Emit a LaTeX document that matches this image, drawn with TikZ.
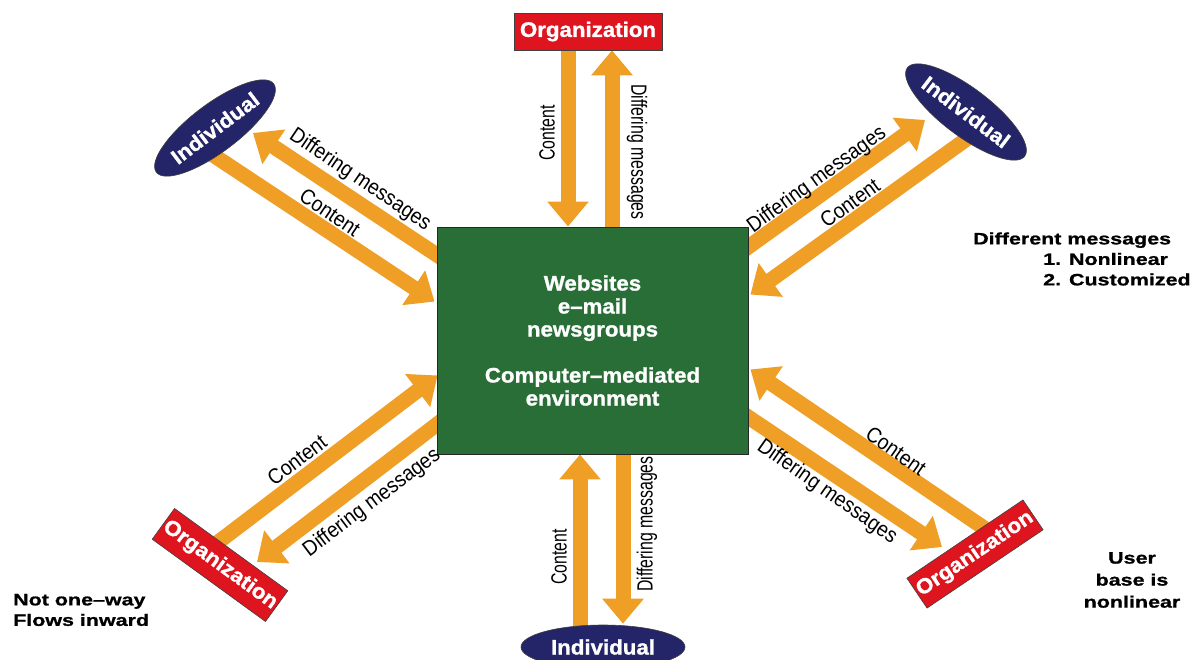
\documentclass[tikz,border=0pt]{standalone}
\usepackage{fontspec}
\setmainfont{Liberation Sans}
\usetikzlibrary{arrows.meta,shapes.geometric}
% condensed face for the arrow captions, wide heavy face for headings
\newfontfamily\vlab[FakeStretch=0.72]{Liberation Sans}
\newfontfamily\dlab[FakeStretch=0.9]{Liberation Sans}
\newfontfamily\heavy[FakeStretch=1.06,BoldFeatures={FakeBold=1.2}]{Liberation Sans}
\newfontfamily\notefont[FakeStretch=1.3,BoldFeatures={FakeBold=1}]{Liberation Sans}
\definecolor{flowc}{RGB}{239,158,38}
\definecolor{hubgreen}{RGB}{40,110,54}
\definecolor{orgred}{RGB}{222,20,30}
\definecolor{navy}{RGB}{36,36,104}
\pgfdeclarelayer{bg}
\pgfsetlayers{bg,main}
\begin{document}
\begin{tikzpicture}[x=1pt,y=-1pt,
  flow/.style={draw=flowc,line width=15pt,-{Triangle[width=40pt,length=25pt]}},
  hub/.style={draw=black!85,line width=0.9pt,fill=hubgreen,minimum width=311pt,
    minimum height=227pt,inner sep=0pt,text=white,align=center,
    font=\heavy\bfseries\fontsize{21}{23}\selectfont},
  orgbox/.style={draw=black!75,line width=0.6pt,fill=orgred,inner sep=0pt,text=white,
    font=\heavy\bfseries\fontsize{21}{23}\selectfont},
  person/.style={ellipse,draw=black!75,line width=0.6pt,fill=navy,inner sep=0pt,text=white,
    font=\heavy\bfseries\fontsize{21}{23}\selectfont},
  vlabel/.style={font=\vlab\fontsize{22}{24}\selectfont,inner sep=0pt},
  dlabel/.style={font=\dlab\fontsize{21.5}{24}\selectfont,inner sep=0pt},
  sidenote/.style={font=\notefont\bfseries\fontsize{16.5}{20.5}\selectfont,inner sep=0pt}]
\useasboundingbox (0,0) rectangle (1201,659);
\clip (0,0) rectangle (1201,659);

% central hub
\node[hub] (box) at (592.5,340.5)
  {Websites\\e–mail\\newsgroups\\[23pt]Computer–mediated\\environment};

% participants
\node[orgbox,minimum width=148pt,minimum height=37pt] (org1) at (588,31.5) {Organization};
\node[person,minimum width=138pt,minimum height=48pt,rotate=37] (ind1) at (215,128) {Individual};
\node[person,minimum width=136pt,minimum height=48pt,rotate=-37] (ind2) at (966,112) {Individual};
\node[orgbox,minimum width=140pt,minimum height=38pt,rotate=-36] (org2) at (220,565) {Organization};
\node[orgbox,minimum width=140pt,minimum height=36pt,rotate=34] (org3) at (975,554) {Organization};
\node[person,minimum width=164pt,minimum height=44pt] (ind3) at (603,647) {Individual};

% flows, drawn beneath the boxes
\begin{pgfonlayer}{bg}
\fill[white] (0,0) rectangle (1201,659);
% top
\draw[flow] ([shift={(-20,0)}]org1.south) -- ([shift={(-24.5,0)}]box.north);
\draw[flow] ([shift={(19.5,0)}]box.north) -- ([shift={(24,0)}]org1.south);
% bottom
\draw[flow] ([shift={(-23,6)}]ind3.north) -- ([shift={(-12.5,0)}]box.south);
\draw[flow] ([shift={(30.5,0)}]box.south) -- ([shift={(20,-1)}]ind3.north);
% top left
\draw[flow] ([shift={(-5,25)}]ind1.center) -- ([shift={(-2,75)}]box.north west);
\draw[flow] ([shift={(8,33.5)}]box.north west) -- ([shift={(38,5)}]ind1.center);
% top right
\draw[flow] ([shift={(-8,26)}]box.north east) -- ([shift={(-41,8)}]ind2.center);
\draw[flow] ([shift={(9,21)}]ind2.center) -- ([shift={(2,68)}]box.north east);
% bottom left
\draw[flow] ([shift={(-3,-22)}]org2.center) -- ([shift={(1,-79)}]box.south west);
\draw[flow] ([shift={(8,-36)}]box.south west) -- ([shift={(37,-3)}]org2.center);
% bottom right
\draw[flow] ([shift={(12,-24)}]org3.center) -- ([shift={(2,-85)}]box.south east);
\draw[flow] ([shift={(-8,-42.6)}]box.south east) -- ([shift={(-33,-7)}]org3.center);
\end{pgfonlayer}

% arrow captions
\node[vlabel,rotate=90]  (tc) at (547,133) {Content};
\node[vlabel,rotate=-90] (td) at (637,152) {Differing messages};
\node[vlabel,rotate=90]  (bc) at (559,557) {Content};
\node[vlabel,rotate=90]  (bd) at (647,524) {Differing messages};
\node[dlabel,rotate=-34] (tld) at (360,180) {Differing messages};
\node[dlabel,rotate=-34] (tlc) at (330,212) {Content};
\node[dlabel,rotate=36]  (trd) at (817,180) {Differing messages};
\node[dlabel,rotate=36]  (trc) at (850,203) {Content};
\node[dlabel,rotate=37]  (blc) at (297,460) {Content};
\node[dlabel,rotate=37]  (bld) at (372,503) {Differing messages};
\node[dlabel,rotate=-35] (brc) at (896,451) {Content};
\node[dlabel,rotate=-35] (brd) at (827,492) {Differing messages};

% side notes
\node[sidenote,anchor=west,align=left] (n1) at (973,259)
  {Different messages\\\hspace*{70pt}1. Nonlinear\\\hspace*{70pt}2. Customized};
\node[sidenote,anchor=west,align=left] (n2) at (13,610) {Not one–way\\Flows inward};
\node[sidenote,align=center,font=\notefont\bfseries\fontsize{16.5}{22}\selectfont] (n3) at (1132,580)
  {User\\base is\\nonlinear};
\end{tikzpicture}
\end{document}
